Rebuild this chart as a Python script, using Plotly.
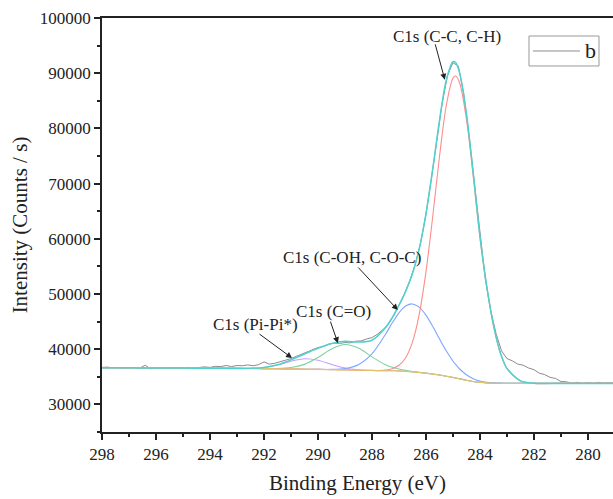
import plotly.graph_objects as go
import numpy as np

# ---------------- data ----------------
raw_energy = [298.0, 297.8, 297.6, 297.4, 297.2, 297.0, 296.8, 296.6, 296.4, 296.2,
              296.0, 295.8, 295.6, 295.4, 295.2, 295.0, 294.8, 294.6, 294.4, 294.2,
              294.0, 293.8, 293.6, 293.4, 293.2, 293.0, 292.8, 292.6, 292.4, 292.2,
              292.0, 291.8, 291.6, 291.4, 291.2, 291.0, 290.8, 290.6, 290.4, 290.2,
              290.0, 289.8, 289.6, 289.4, 289.2, 289.0, 288.8, 288.6, 288.4, 288.2,
              288.0, 287.8, 287.6, 287.4, 287.2, 287.0, 286.8, 286.6, 286.4, 286.2,
              286.0, 285.8, 285.6, 285.4, 285.2, 285.0, 284.8, 284.6, 284.4, 284.2,
              284.0, 283.8, 283.6, 283.4, 283.2, 283.0, 282.8, 282.6, 282.4, 282.2,
              282.0, 281.8, 281.6, 281.4, 281.2, 281.0, 280.8, 280.6, 280.4, 280.2,
              280.0, 279.8, 279.6, 279.4, 279.2, 279.0]
raw_counts = [36700, 36750, 36620, 36680, 36550, 36600, 36700, 36580, 37100, 36450,
              36650, 36500, 36600, 36550, 36500, 36620, 36700, 36580, 36750, 36800,
              36700, 36900, 36850, 37050, 36850, 37050, 37000, 37150, 37000, 37200,
              37700, 37300, 37450, 37700, 38000, 38300, 38700, 39100, 39500, 39800,
              40300, 40500, 40900, 41100, 41050, 41200, 41150, 41450, 41500, 41850,
              42100, 42700, 43500, 44500, 46000, 48000, 50000, 52400, 55300, 59200,
              64400, 70800, 77900, 84500, 89600, 91900, 91300, 86300, 78600, 69800,
              60800, 52700, 47000, 42800, 39700, 38300, 37900, 37300, 37100, 36600,
              36300, 35650, 35400, 34900, 34700, 34150, 34100, 33850, 34000, 33800,
              33950, 33800, 34000, 33850, 33950, 33850]

fit_energy = [298, 297, 296, 295, 294, 293.5, 293, 292.5, 292, 291.5, 291, 290.5, 290,
              289.5, 289, 288.5, 288, 287.5, 287.25, 287, 286.75, 286.5, 286.25, 286,
              285.75, 285.5, 285.25, 285, 284.9, 284.75, 284.5, 284.25, 284, 283.75,
              283.5, 283.25, 283, 282.5, 282, 281, 280, 279]
background = [36650, 36630, 36600, 36580, 36550, 36530, 36520, 36500, 36480, 36450, 36420,
              36380, 36340, 36300, 36250, 36200, 36150, 36110, 36095, 36080, 36000, 35900,
              35780, 35650, 35500, 35320, 35100, 34880, 34780, 34620, 34380, 34150, 34000,
              33900, 33850, 33830, 33820, 33810, 33800, 33800, 33800, 33800]
peak_cc = [0, 0, 0, 0, 0, 0, 0, 0, 0, 0, 0, 0, 0, 0, 0, 0, 0, 120, 370, 1010, 2460, 5380,
           10500, 18300, 28440, 39490, 48960, 54210, 54700, 53600, 47320, 37300, 26260,
           17500, 10500, 5600, 2700, 450, 10, 0, 0, 0]
peak_coh = [0, 0, 0, 0, 0, 0, 0, 0, 0, 0, 0, 0, 6, 43, 242, 1000, 2990, 6565, 8640, 10515,
            11830, 12300, 11830, 10515, 8640, 6565, 4610, 2990, 2460, 1795, 1000, 511, 242,
            107, 43, 16, 6, 0, 0, 0, 0, 0]
peak_co = [0, 0, 0, 0, 0, 0, 0, 0, 7, 51, 250, 872, 2145, 3730, 4590, 4000, 2463, 1074, 622,
           331, 161, 72, 30, 12, 4, 0, 0, 0, 0, 0, 0, 0, 0, 0, 0, 0, 0, 0, 0, 0, 0, 0]
peak_pi = [0, 0, 0, 0, 0, 0, 6, 43, 212, 674, 1396, 1884, 1657, 949, 355, 86, 14, 1, 0, 0,
           0, 0, 0, 0, 0, 0, 0, 0, 0, 0, 0, 0, 0, 0, 0, 0, 0, 0, 0, 0, 0, 0]

labels = ["C1s (C-C, C-H)", "C1s (C-OH, C-O-C)", "C1s (C=O)", "C1s (Pi-Pi*)"]
legend_label = "b"

# ---------------- figure ----------------
FONT = "Liberation Serif"
bg = np.array(background)
fig = go.Figure()

fig.add_trace(go.Scatter(x=raw_energy, y=raw_counts, mode="lines", name=legend_label,
                         showlegend=False, line=dict(color="#8c8c8c", width=1)))
comp_colors = ["#ff8c8c", "#7fa6ff", "#7fd3a0", "#c79bff"]
for comp, col in zip([peak_pi, peak_co, peak_coh, peak_cc], comp_colors[::-1]):
    fig.add_trace(go.Scatter(x=fit_energy, y=bg + np.array(comp), mode="lines",
                             showlegend=False,
                             line=dict(color=col, width=1.1, shape="spline", smoothing=0.8)))
fig.add_trace(go.Scatter(x=fit_energy, y=bg, mode="lines", showlegend=False,
                         line=dict(color="#e3c46e", width=1.2, shape="spline")))
envelope = bg + np.array(peak_cc) + np.array(peak_coh) + np.array(peak_co) + np.array(peak_pi)
fig.add_trace(go.Scatter(x=fit_energy, y=envelope, mode="lines", showlegend=False,
                         line=dict(color="#4fd2cf", width=1.5, shape="spline", smoothing=0.8)))

# annotations: text
text_pos = [(285.22, 96600), (288.74, 56700), (289.44, 46900), (292.33, 44400)]
for t, (x, y) in zip(labels, text_pos):
    fig.add_annotation(x=x, y=y, text=t, showarrow=False,
                       font=dict(family=FONT, size=17, color="#222"))
# arrows
arrow_tips = [(285.30, 88800, -10, -37), (287.04, 47100, -41, -44),
              (289.26, 41100, -8, -23), (290.96, 38400, -34, -25)]
for x, y, ax, ay in arrow_tips:
    fig.add_annotation(x=x, y=y, ax=ax, ay=ay, text="", showarrow=True,
                       arrowhead=2, arrowsize=1.2, arrowwidth=1, arrowcolor="#222")

# legend box (drawn in paper coordinates)
fig.add_shape(type="rect", xref="paper", yref="paper", x0=0.8356, x1=0.9726,
              y0=0.8841, y1=0.9565, line=dict(color="#999", width=1), fillcolor="white")
fig.add_shape(type="line", xref="paper", yref="paper", x0=0.8434, x1=0.9354,
              y0=0.9203, y1=0.9203, line=dict(color="#8c8c8c", width=1))
fig.add_annotation(xref="paper", yref="paper", x=0.9550, y=0.9203, text=legend_label,
                   xanchor="center", yanchor="middle", showarrow=False,
                   font=dict(family=FONT, size=22, color="#222"))

axis_common = dict(showline=True, linecolor="#222", linewidth=1.6, ticks="outside",
                   ticklen=6, tickwidth=1.5, tickcolor="#222", showgrid=False,
                   zeroline=False, tickfont=dict(family=FONT, size=17, color="#222"),
                   title_font=dict(family=FONT, size=21, color="#222"))

fig.update_xaxes(range=[298, 279.07], dtick=2, tick0=0, mirror=True,
                 minor=dict(dtick=1, ticklen=3.5, tickwidth=1.5, tickcolor="#222", ticks="outside"),
                 title_text="Binding Energy (eV)", title_standoff=12, **axis_common)
fig.update_yaxes(range=[25000, 100000], dtick=10000, tick0=0, tickformat="d",
                 minor=dict(dtick=5000, ticklen=3.5, tickwidth=1.5, tickcolor="#222", ticks="outside"),
                 title_text="Intensity (Counts / s)", title_standoff=6, **axis_common)

fig.update_layout(width=613, height=499, margin=dict(l=102, r=0, t=18, b=67),
                  plot_bgcolor="white", paper_bgcolor="white", showlegend=False,
                  font=dict(family=FONT, color="#222"))

fig.write_html("out.html")
